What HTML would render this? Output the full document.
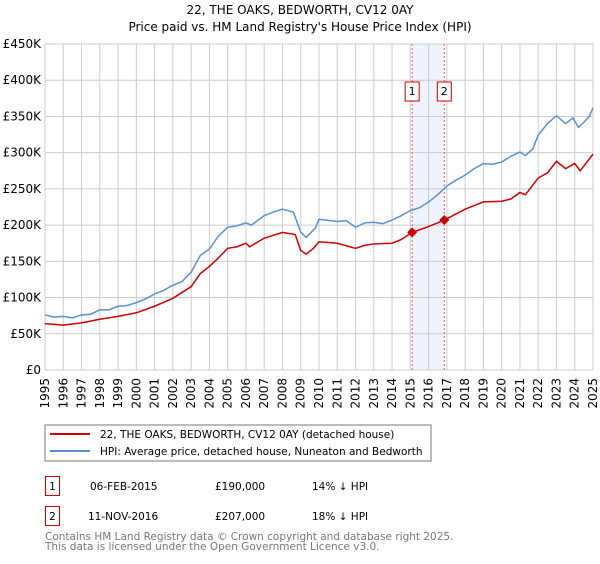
<!DOCTYPE html>
<html><head><meta charset="utf-8"><style>
body{margin:0;background:#fff;font-family:"DejaVu Sans","Liberation Sans",sans-serif;}
svg text{font-family:"DejaVu Sans","Liberation Sans",sans-serif;}
</style></head><body>
<svg id="c" width="600" height="560" xmlns="http://www.w3.org/2000/svg">
<text x="300" y="14" text-anchor="middle" font-size="12">22, THE OAKS, BEDWORTH, CV12 0AY</text>
<text x="300" y="31" text-anchor="middle" font-size="12">Price paid vs. HM Land Registry's House Price Index (HPI)</text>
<g id="grid"></g><g id="plot"></g>
<rect x="45" y="425" width="386" height="36" fill="#fff" stroke="#777"/>
<line x1="50" y1="434" x2="90" y2="434" stroke="#cc0000" stroke-width="2"/>
<text x="100" y="438" font-size="10.5">22, THE OAKS, BEDWORTH, CV12 0AY (detached house)</text>
<line x1="50" y1="451" x2="90" y2="451" stroke="#5b8fd4" stroke-width="2"/>
<text x="100" y="455" font-size="10.5">HPI: Average price, detached house, Nuneaton and Bedworth</text>
<g>
<rect x="45.5" y="476.5" width="14" height="19" fill="none" stroke="#cc0000"/>
<text x="52.5" y="490" font-size="10.5" text-anchor="middle">1</text>
<text x="90" y="490" font-size="10.5">06-FEB-2015</text>
<text x="215" y="490" font-size="10.5">£190,000</text>
<text x="312" y="490" font-size="10.5">14% ↓ HPI</text></g>
<g>
<rect x="45.5" y="506.5" width="14" height="19" fill="none" stroke="#cc0000"/>
<text x="52.5" y="520" font-size="10.5" text-anchor="middle">2</text>
<text x="88" y="520" font-size="10.5">11-NOV-2016</text>
<text x="215" y="520" font-size="10.5">£207,000</text>
<text x="312" y="520" font-size="10.5">18% ↓ HPI</text></g>
<text x="45" y="540" font-size="10.5" fill="#777">Contains HM Land Registry data © Crown copyright and database right 2025.</text>
<text x="45" y="550" font-size="10.5" fill="#777">This data is licensed under the Open Government Licence v3.0.</text>
</svg>
<script>
const yTicks=[0,50000,100000,150000,200000,250000,300000,350000,400000,450000];
const yLabels=["£0","£50K","£100K","£150K","£200K","£250K","£300K","£350K","£400K","£450K"];
const xYears=[1995,1996,1997,1998,1999,2000,2001,2002,2003,2004,2005,2006,2007,2008,2009,2010,2011,2012,2013,2014,2015,2016,2017,2018,2019,2020,2021,2022,2023,2024,2025];
const hpiT=[1995,1995.5,1996,1996.5,1997,1997.5,1998,1998.5,1999,1999.5,2000,2000.5,2001,2001.5,2002,2002.5,2003,2003.5,2004,2004.5,2005,2005.5,2006,2006.3,2007,2007.5,2008,2008.6,2009,2009.3,2009.8,2010,2011,2011.5,2012,2012.5,2013,2013.5,2014,2014.5,2015,2015.5,2016,2016.5,2017,2017.5,2018,2018.5,2019,2019.5,2020,2020.5,2021,2021.3,2021.7,2022,2022.5,2023,2023.5,2023.9,2024.2,2024.5,2024.8,2025];
const hpiV=[76000,73000,74000,72000,76000,77000,83000,83000,88000,89000,93000,98000,105000,110000,117000,122000,135000,158000,167000,185000,197000,199000,203000,200000,213000,218000,222000,218000,190000,183000,196000,208000,205000,206000,197000,203000,204000,202000,207000,213000,220000,224000,232000,242000,254000,262000,269000,278000,285000,284000,287000,295000,301000,296000,305000,324000,340000,351000,340000,348000,335000,342000,350000,362000];
const ppT=[1995,1996,1997,1998,1999,2000,2001,2002,2003,2003.5,2004,2004.5,2005,2005.5,2006,2006.2,2007,2008,2008.7,2009,2009.3,2009.7,2010,2011,2012,2012.5,2013,2014,2014.5,2015.1,2016,2016.86,2018,2019,2020,2020.5,2021,2021.3,2022,2022.5,2023,2023.5,2024,2024.3,2025];
const ppV=[64000,62000,65000,70000,74000,79000,88000,99000,115000,133000,143000,155000,168000,170000,175000,170000,182000,190000,187000,165000,160000,168000,177000,175000,168000,172000,174000,175000,180000,190000,198000,207000,222000,232000,233000,236000,245000,242000,265000,272000,288000,278000,285000,275000,298000];
const saleT=[2015.1,2016.86];
const saleV=[190000,207000];
const saleLabels=["1","2"];
const X0=45,X1=593,Y0=370,Y1=44;
const xs=t=>X0+(t-1995)/30*(X1-X0);
const ys=v=>Y0-v/450000*(Y0-Y1);
const NS="http://www.w3.org/2000/svg";
const g=document.getElementById('grid'),p=document.getElementById('plot');
function mk(tag,attrs,parent){const e=document.createElementNS(NS,tag);for(const k in attrs)e.setAttribute(k,attrs[k]);parent.appendChild(e);return e;}
const band=mk('rect',{x:xs(saleT[0]),y:Y1,width:xs(saleT[1])-xs(saleT[0]),height:Y0-Y1,fill:'#eef3fc'},g);


yTicks.forEach((v,i)=>{
 const l=mk('line',{x1:X0,x2:X1,y1:ys(v),y2:ys(v),stroke:'#ccc'},g);
 
 
 const t=mk('text',{x:X0-4,y:ys(v)+4,'text-anchor':'end','font-size':'12'},g);
 t.textContent=yLabels[i];
 
 
});
xYears.forEach(yr=>{
 const x=xs(yr);
 const l=mk('line',{x1:x,x2:x,y1:Y1,y2:Y0,stroke:'#ccc'},g);
 
 
 const t=mk('text',{transform:`translate(${x+4},${Y0+8}) rotate(-90)`,'text-anchor':'end','font-size':'12'},g);
 t.textContent=yr;
 
 
});
const fr=mk('rect',{x:X0,y:Y1,width:X1-X0,height:Y0-Y1,fill:'none',stroke:'#ccc'},g);


saleT.forEach((t,i)=>{
 const l=mk('line',{x1:xs(t),x2:xs(t),y1:Y1,y2:Y0,stroke:'#e06060','stroke-dasharray':'2,2'},p);
 
 
});
const hp=mk('polyline',{points:hpiT.map((t,i)=>xs(t)+','+ys(hpiV[i])).join(' '),fill:'none',stroke:'#5b8fd4','stroke-width':'1.5'},p);


const pp=mk('polyline',{points:ppT.map((t,i)=>xs(t)+','+ys(ppV[i])).join(' '),fill:'none',stroke:'#cc0000','stroke-width':'1.5'},p);


saleT.forEach((t,i)=>{
 const x=xs(t),y=ys(saleV[i]);
 const d=mk('path',{d:`M${x},${y-5}L${x+5},${y}L${x},${y+5}L${x-5},${y}Z`,fill:'#cc0000'},p);
 
 
 const b=mk('rect',{x:x-7,y:82,width:14,height:19,fill:'#fff',stroke:'#cc0000'},p);
 
 
 const tx=mk('text',{x:x,y:95,'text-anchor':'middle','font-size':'11'},p);
 tx.textContent=saleLabels[i];
 
 
});
</script>
</body></html>
